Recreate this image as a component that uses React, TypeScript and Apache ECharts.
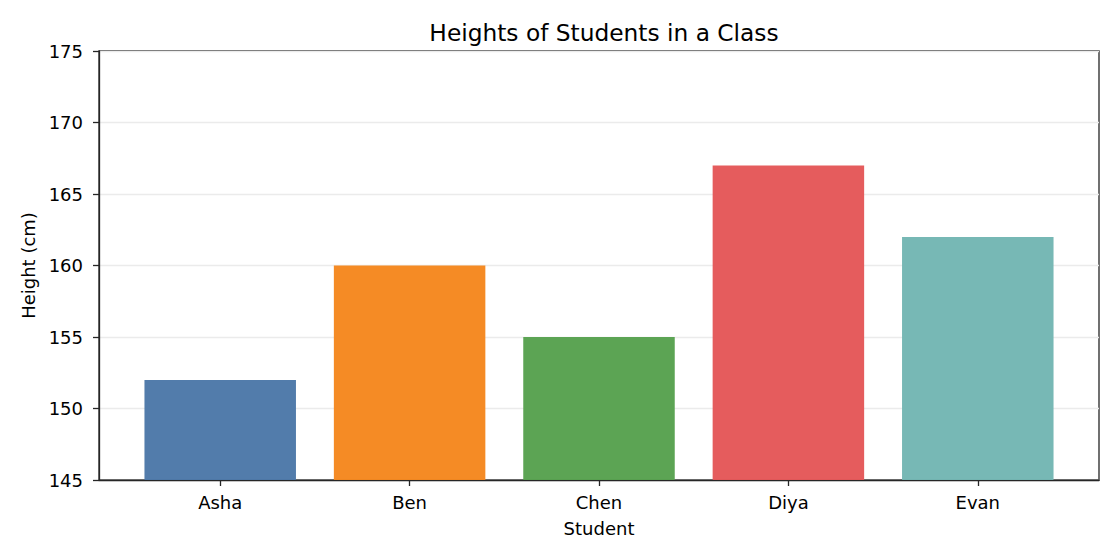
import { useEffect, useRef } from "react";
import * as echarts from "echarts";

const students = ["Asha", "Ben", "Chen", "Diya", "Evan"];
const heights = [152, 160, 155, 167, 162];
const barColors = ["#4c78a8", "#f5871e", "#57a14e", "#e45758", "#73b6b3"];
const yTicks = [145, 150, 155, 160, 165, 170, 175];

const FONT = "DejaVu Sans";
const SPINE = "#262626";

export default function App() {
  const ref = useRef<HTMLDivElement>(null);

  useEffect(() => {
    if (!ref.current) return;
    const chart = echarts.init(ref.current, null, { renderer: "svg" });
    const positions = students.map((_, i) => i);
    chart.setOption({
      animation: false,
      backgroundColor: "#ffffff",
      textStyle: { fontFamily: FONT },
      title: {
        text: "Heights of Students in a Class",
        left: 599,
        textAlign: "center",
        top: 16,
        textStyle: { fontFamily: FONT, fontSize: 23.3, fontWeight: "normal", color: "#000" },
      },
      grid: {
        left: 99,
        top: 51,
        width: 1000,
        height: 429,
        show: true,
        borderColor: SPINE,
        borderWidth: 1.3,
        backgroundColor: "transparent",
      },
      xAxis: {
        type: "value",
        min: -0.64,
        max: 4.64,
        name: "Student",
        nameLocation: "middle",
        nameGap: 39,
        nameTextStyle: { fontFamily: FONT, fontSize: 18, color: "#000" },
        axisLine: { show: true, onZero: false, lineStyle: { color: SPINE, width: 1.3 } },
        axisTick: {
          show: true,
          inside: false,
          length: 6,
          customValues: positions,
          lineStyle: { color: SPINE, width: 1.3 },
        },
        axisLabel: {
          customValues: positions,
          formatter: (v: number) => students[Math.round(v)] ?? "",
          fontFamily: FONT,
          fontSize: 18,
          color: "#000",
          margin: 13,
        },
        splitLine: { show: false },
      },
      yAxis: {
        type: "value",
        min: 145,
        max: 175,
        interval: 5,
        name: "Height (cm)",
        nameLocation: "middle",
        nameGap: 60,
        nameTextStyle: { fontFamily: FONT, fontSize: 18, color: "#000" },
        axisLine: { show: true, onZero: false, lineStyle: { color: SPINE, width: 1.3 } },
        axisTick: { show: true, inside: false, length: 6, lineStyle: { color: SPINE, width: 1.3 } },
        axisLabel: {
          fontFamily: FONT,
          fontSize: 18,
          color: "#000",
          margin: 16,
          formatter: (v: number) => (yTicks.includes(v) ? String(v) : ""),
        },
        splitLine: { show: true, lineStyle: { color: "#ebebeb", width: 1.3 } },
      },
      series: [
        {
          type: "bar",
          barWidth: 151.5,
          data: heights.map((h, i) => ({
            value: [i, h],
            itemStyle: { color: barColors[i], opacity: 0.97 },
          })),
        },
      ],
    });
    return () => chart.dispose();
  }, []);

  return (
    <div
      ref={ref}
      style={{ position: "fixed", left: 0, top: 0, width: 1120, height: 560 }}
    />
  );
}
